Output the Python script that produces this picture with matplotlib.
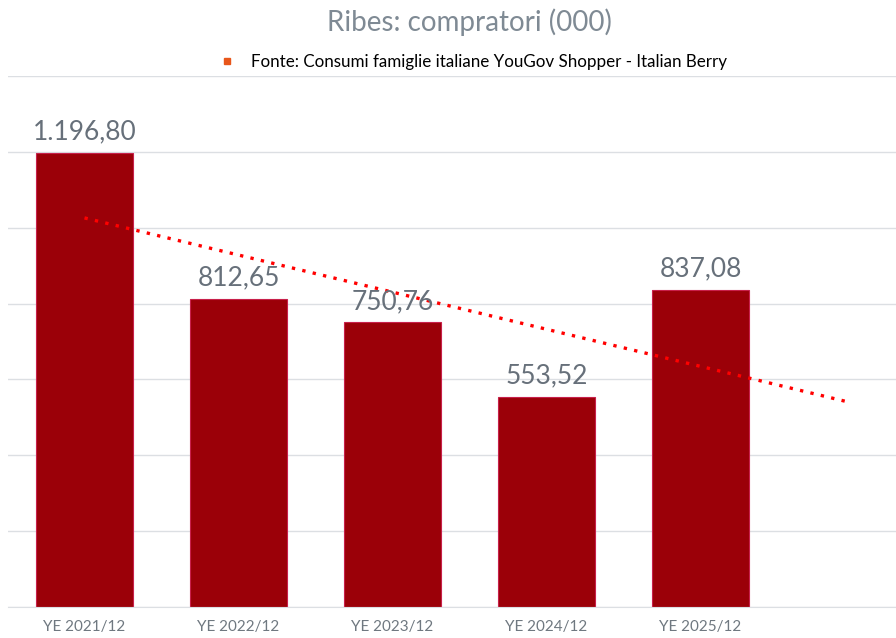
import numpy as np
import matplotlib.pyplot as plt
from matplotlib.lines import Line2D

# data
categories = ["YE 2021/12", "YE 2022/12", "YE 2023/12", "YE 2024/12", "YE 2025/12"]
values = [1196.80, 812.65, 750.76, 553.52, 837.08]
source = "Fonte: Consumi famiglie italiane YouGov Shopper - Italian Berry"

plt.rcParams['font.family'] = ['Lato', 'DejaVu Sans']

fig = plt.figure(figsize=(8.96, 6.38), dpi=100)
ax = fig.add_axes([7.5 / 896, 31 / 638, 888.5 / 896, 531 / 638])

x = np.arange(len(categories))
ax.bar(x, values, width=0.63, color="#9b0008", edgecolor="#c8204a", linewidth=0.8, zorder=2)


def it_fmt(v):
    s = f"{v:,.2f}"
    return s.replace(",", "X").replace(".", ",").replace("X", ".")


for xi, v in zip(x, values):
    ax.text(xi, v + 22, it_fmt(v), ha="center", va="bottom", fontsize=19, color="#67707a", zorder=4)

# linear trend, forecast forward
slope, intercept = np.polyfit(x, values, 1)
xt = np.array([0, 4.95])
ax.plot(xt, intercept + slope * xt, color="#ff0000", linestyle=(0, (1, 2.2)), linewidth=2.4, zorder=3)

ax.set_ylim(0, 1400)
ax.set_xlim(-0.5, 888.5 / 154 - 0.5)
ax.set_yticks(np.arange(0, 1401, 200))
ax.yaxis.grid(True, color="#dcdfe3", linewidth=1)
ax.set_axisbelow(True)
ax.tick_params(axis="y", left=False, labelleft=False)
ax.set_xticks(x)
ax.set_xticklabels(categories, fontsize=11, color="#6f7880")
ax.tick_params(axis="x", length=0, pad=9)
for s in ["top", "right", "left"]:
    ax.spines[s].set_visible(False)
ax.spines["bottom"].set_color("#dcdfe3")

fig.text(469 / 896, 1 - 22 / 638, "Ribes: compratori (000)", ha="center", va="center",
         fontsize=20, color="#7f8a94")
handle = Line2D([], [], marker="s", linestyle="none", color="#e8561a", markersize=4)
fig.legend([handle], [source], loc="center", bbox_to_anchor=(468.5 / 896, 1 - 62 / 638),
           frameon=False, fontsize=12.25, handletextpad=0.45)

fig.savefig("out.png", dpi=100)
